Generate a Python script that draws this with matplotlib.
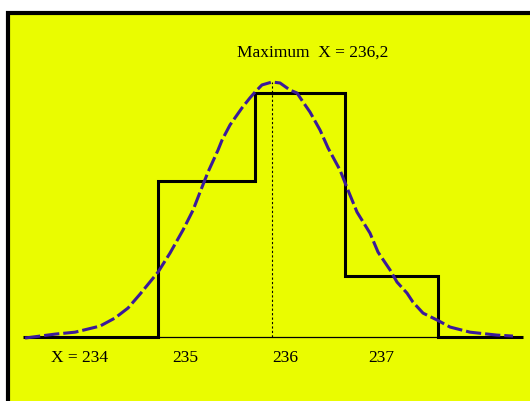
import matplotlib
matplotlib.use('Agg')
import matplotlib.pyplot as plt
from matplotlib.patches import Rectangle

# histogram (relative frequency, tallest bin = 1)
bin_edges = [233.27, 234.68, 235.69, 236.63, 237.59, 238.48]
bin_heights = [0.0, 0.64, 1.0, 0.25, 0.0]

# fitted curve
curve_x = [233.292, 233.604, 233.813, 234.073, 234.229, 234.365, 234.490, 234.677,
           234.802, 234.938, 235.042, 235.115, 235.198, 235.302, 235.344, 235.427,
           235.552, 235.635, 235.688, 235.760, 235.865, 235.948, 236.052, 236.125,
           236.188, 236.260, 236.365, 236.448, 236.573, 236.656, 236.750, 236.885,
           236.969, 237.094, 237.167, 237.271, 237.333, 237.438, 237.583, 237.719,
           237.927, 238.208, 238.375]
curve_y = [-0.004, 0.012, 0.020, 0.045, 0.078, 0.119, 0.176, 0.266,
           0.344, 0.439, 0.520, 0.594, 0.676, 0.766, 0.807, 0.869,
           0.939, 0.980, 1.004, 1.033, 1.045, 1.041, 1.012, 1.000,
           0.963, 0.922, 0.848, 0.775, 0.684, 0.602, 0.512, 0.426,
           0.348, 0.275, 0.225, 0.180, 0.143, 0.098, 0.070, 0.041,
           0.020, 0.008, 0.004]

x_max = 235.86
y_max = 1.045
max_label = 'Maximum  X = 236,2'

tick_pos = [233.86, 234.96, 236.0, 237.0]
tick_labels = ['X = 234', '235', '236', '237']

fig = plt.figure(figsize=(5.30, 4.01), dpi=100)
fig.patch.set_facecolor('white')

# yellow panel with black frame (right and bottom run off the picture)
fig.patches.append(Rectangle((8 / 530, -0.1), 1.2, (401 - 12.5) / 401 + 0.1,
                             transform=fig.transFigure, facecolor='#EAFC00',
                             edgecolor='black', linewidth=3.0, clip_on=False,
                             zorder=-1))

ax = fig.add_axes([0, 0, 1, 1])
ax.set_facecolor('none')
ax.set_xlim(233.031, 238.552)
ax.set_ylim(-0.262, 1.381)
ax.axis('off')

# thin baseline under the histogram
ax.plot([bin_edges[1], bin_edges[-2]], [0, 0], color='black', linewidth=0.9)

ax.stairs(bin_heights, bin_edges, baseline=None, color='black', linewidth=2.2)

ax.plot(curve_x, curve_y, color='#3B1A9A', linewidth=2.2,
        linestyle=(0, (5, 1.3)), zorder=3)

ax.plot([x_max, x_max], [0, y_max], color='black', linewidth=0.8,
        linestyle=(0, (2, 2)))

ax.text(236.29, 1.164, max_label, ha='center', va='center',
        family='Liberation Serif', fontsize=12.5)

for pos, lab in zip(tick_pos, tick_labels):
    ax.text(pos, -0.086, lab, ha='center', va='center',
            family='Liberation Serif', fontsize=12.5)

plt.savefig('out.png', dpi=100)
plt.close()
